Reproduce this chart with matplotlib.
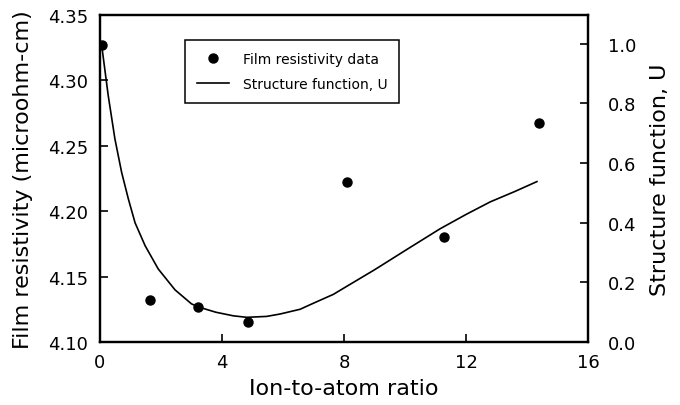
import numpy as np
import matplotlib
matplotlib.use('Agg')
import matplotlib.pyplot as plt

plt.rcParams['font.family'] = ['DejaVu Sans']

# Film resistivity data (left axis)
ratio = [0.07, 1.64, 3.22, 4.86, 8.09, 11.26, 14.40]
resistivity = [4.327, 4.132, 4.127, 4.115, 4.222, 4.180, 4.267]

# Structure function U (right axis)
u_x = [0.05, 0.27, 0.49, 0.71, 0.93, 1.15, 1.48, 1.91, 2.46, 3.00, 3.28,
       3.80, 4.37, 4.81, 5.46, 5.90, 6.56, 6.99, 7.65, 8.09, 8.96, 9.18,
       10.05, 11.15, 12.00, 12.79, 13.60, 14.32]
u_y = [1.000, 0.827, 0.681, 0.569, 0.480, 0.400, 0.323, 0.245, 0.175, 0.128,
       0.116, 0.100, 0.088, 0.083, 0.086, 0.094, 0.110, 0.130, 0.160, 0.187,
       0.240, 0.254, 0.310, 0.380, 0.428, 0.470, 0.505, 0.538]

fig = plt.figure(figsize=(6.8, 4.06), dpi=100)
ax = fig.add_axes([0.147, 0.155, 0.718, 0.806])
ax2 = ax.twinx()

line, = ax2.plot(u_x, u_y, 'k-', lw=1.2, label='Structure function, U')
dots, = ax.plot(ratio, resistivity, 'ko', ms=6.5, label='Film resistivity data')
ax.set_zorder(ax2.get_zorder() + 1)
ax.patch.set_visible(False)

ax.set_xlim(0, 16)
ax.set_ylim(4.10, 4.35)
ax.set_xticks([0, 4, 8, 12, 16])
ax.set_yticks([4.10, 4.15, 4.20, 4.25, 4.30, 4.35])
ax.set_yticklabels(['4.10', '4.15', '4.20', '4.25', '4.30', '4.35'])
ax2.set_ylim(0, 1.097)
ax2.set_yticks([0.0, 0.2, 0.4, 0.6, 0.8, 1.0])
ax2.set_yticklabels(['0.0', '0.2', '0.4', '0.6', '0.8', '1.0'])

for a in (ax, ax2):
    for s in a.spines.values():
        s.set_linewidth(1.6)
    a.tick_params(direction='in', length=6, width=1.2, labelsize=13)
ax.tick_params(axis='x', top=False, pad=8)
ax.tick_params(axis='y', right=False, pad=8.5)
ax2.tick_params(axis='y', pad=14)

ax.set_xlabel('Ion-to-atom ratio', fontsize=16, labelpad=5)
ax.set_ylabel('Film resistivity (microohm-cm)', fontsize=16, labelpad=11)
ax2.set_ylabel('Structure function, U', fontsize=16, labelpad=10)

leg = ax.legend([dots, line], ['Film resistivity data', 'Structure function, U'],
                loc='upper left', bbox_to_anchor=(0.174, 0.924), borderaxespad=0,
                fontsize=10, frameon=True, fancybox=False, edgecolor='black',
                framealpha=1, handlelength=2.3, handletextpad=1.0,
                borderpad=0.85, labelspacing=0.85)
leg.get_frame().set_linewidth(1.1)

fig.savefig('out.png', dpi=100)
